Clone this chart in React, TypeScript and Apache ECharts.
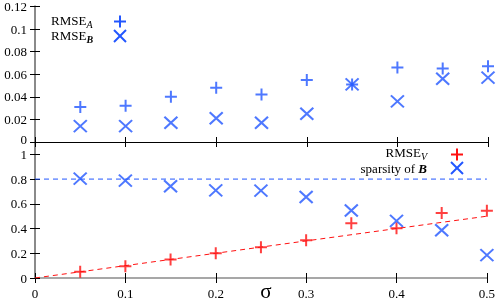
import React, { useEffect, useRef } from "react";
import * as echarts from "echarts";

const sigma = [0.05, 0.1, 0.15, 0.2, 0.25, 0.3, 0.35, 0.4, 0.45, 0.5];
const rmseA = [0.031, 0.032, 0.040, 0.048, 0.042, 0.055, 0.051, 0.066, 0.065, 0.067];
const rmseB = [0.014, 0.014, 0.017, 0.021, 0.017, 0.025, 0.051, 0.036, 0.056, 0.057];
const rmseV = [0.05, 0.095, 0.15, 0.2, 0.248, 0.305, 0.443, 0.402, 0.525, 0.543];
const sparsityB = [0.804, 0.788, 0.742, 0.709, 0.707, 0.655, 0.546, 0.462, 0.386, 0.185];
const fitLine = [[0, 0], [0.5, 0.5]];
const sparsityRef = [[0, 0.8], [0.5, 0.8]];

const BLUE = "#2256ff";
const RED = "#ff1010";
const GRAY = "#8a8a8a";
const FONT = "Liberation Serif";

const PLUS = "path://M0,5L10,5M5,0L5,10";
const CROSS = "path://M0,0L10,10M10,0L0,10";

export default function App() {
  const ref = useRef<HTMLDivElement>(null);
  useEffect(() => {
    if (!ref.current) return;
    const chart = echarts.init(ref.current, undefined, { renderer: "svg" });
    const tick = { show: true, inside: true, length: 5, lineStyle: { color: "#000", width: 1 } };
    const xBase = { type: "value", min: 0, max: 0.5, interval: 0.1, splitLine: { show: false } };
    const label = { fontFamily: FONT, fontSize: 13, lineHeight: 12, color: "#000" };
    const pts = (ys: number[]) => sigma.map((x, i) => [x, ys[i]]);
    const markerStyle = (c: string) => ({ color: "none", borderColor: c, borderWidth: 2 });
    const sub = { fontFamily: FONT, fontSize: 10, fontStyle: "italic", lineHeight: 10, padding: [5, 0, 0, 0], verticalAlign: "top", color: "#000" };
    const subB = { ...sub, fontWeight: "bold" };
    const main = { fontFamily: FONT, fontSize: 13, lineHeight: 14, verticalAlign: "top", color: "#000" };
    const legendMarker = (x: number, y: number, kind: string, c: string) => {
      const s = 6;
      const shapes =
        kind === "plus"
          ? [
              { x1: x - s, y1: y, x2: x + s, y2: y },
              { x1: x, y1: y - s, x2: x, y2: y + s },
            ]
          : [
              { x1: x - s, y1: y - s, x2: x + s, y2: y + s },
              { x1: x + s, y1: y - s, x2: x - s, y2: y + s },
            ];
      return shapes.map((shape) => ({ type: "line", shape, style: { stroke: c, lineWidth: 2 }, z: 100 }));
    };
    const hideTop = (v: number) => (v > 1.05 ? "" : String(Math.round(v * 10) / 10));
    const topFmt = (v: number) => (v === 0 ? "{z|0}" : String(Math.round(v * 100) / 100));
    chart.setOption({
      animation: false,
      grid: [
        { left: 35, right: 10, top: 6, height: 136 },
        { left: 35, right: 10, top: 142, height: 136 },
      ],
      xAxis: [
        { ...xBase, gridIndex: 0, position: "bottom", axisLine: { lineStyle: { color: "#000", width: 1 } }, axisTick: tick, axisLabel: { show: false } },
        { ...xBase, gridIndex: 0, position: "top", axisLine: { lineStyle: { color: "#000", width: 1 } }, axisTick: tick, axisLabel: { show: false } },
        { ...xBase, gridIndex: 1, position: "bottom", axisLine: { lineStyle: { color: GRAY, width: 1.5 } }, axisTick: tick, axisLabel: { ...label, margin: 9 } },
        { ...xBase, gridIndex: 1, position: "top", axisLine: { show: false }, axisTick: tick, axisLabel: { show: false } },
      ],
      yAxis: [
        { type: "value", gridIndex: 0, position: "left", min: 0, max: 0.12, interval: 0.02, splitLine: { show: false }, axisLine: { show: true, lineStyle: { color: GRAY, width: 2 } }, axisTick: tick, axisLabel: { ...label, margin: 8, formatter: topFmt, rich: { z: { fontFamily: FONT, fontSize: 13, lineHeight: 12, color: "#000", padding: [0, 0, 6, 0] } } } },
        { type: "value", gridIndex: 0, position: "right", min: 0, max: 0.12, interval: 0.02, splitLine: { show: false }, axisLine: { show: true, lineStyle: { color: GRAY, width: 2 } }, axisTick: tick, axisLabel: { show: false } },
        { type: "value", gridIndex: 1, position: "left", min: 0, max: 1.1, interval: 0.2, splitLine: { show: false }, axisLine: { show: true, lineStyle: { color: GRAY, width: 2 } }, axisTick: tick, axisLabel: { ...label, margin: 8, formatter: hideTop } },
        { type: "value", gridIndex: 1, position: "right", min: 0, max: 1.1, interval: 0.2, splitLine: { show: false }, axisLine: { show: true, lineStyle: { color: GRAY, width: 2 } }, axisTick: tick, axisLabel: { show: false } },
      ],
      series: [
        { type: "scatter", name: "RMSE_A", xAxisIndex: 0, yAxisIndex: 0, data: pts(rmseA), symbol: PLUS, symbolSize: [12, 12], itemStyle: markerStyle(BLUE), z: 5 },
        { type: "scatter", name: "RMSE_B", xAxisIndex: 0, yAxisIndex: 0, data: pts(rmseB), symbol: CROSS, symbolSize: [13, 12], itemStyle: markerStyle(BLUE), z: 5 },
        { type: "line", name: "fit", xAxisIndex: 2, yAxisIndex: 2, data: fitLine, symbol: "none", lineStyle: { color: RED, width: 1, type: [5, 4] }, z: 2 },
        { type: "line", name: "ref", xAxisIndex: 2, yAxisIndex: 2, data: sparsityRef, symbol: "none", lineStyle: { color: BLUE, width: 1, type: [5, 4] }, z: 2 },
        { type: "scatter", name: "RMSE_V", xAxisIndex: 2, yAxisIndex: 2, data: pts(rmseV), symbol: PLUS, symbolSize: [12, 12], itemStyle: markerStyle(RED), z: 5 },
        { type: "scatter", name: "sparsity of B", xAxisIndex: 2, yAxisIndex: 2, data: pts(sparsityB), symbol: CROSS, symbolSize: [13, 12], itemStyle: markerStyle(BLUE), z: 5 },
      ],
      graphic: [
        { type: "text", left: 51, top: 14, style: { text: "{m|RMSE}{s|A}", rich: { m: main, s: sub } }, z: 100 },
        { type: "text", left: 51, top: 29, style: { text: "{m|RMSE}{s|B}", rich: { m: main, s: subB } }, z: 100 },
        ...legendMarker(120, 21.5, "plus", BLUE),
        ...legendMarker(120, 36, "cross", BLUE),
        { type: "text", right: 71, top: 146, style: { text: "{m|RMSE}{s|V}", rich: { m: main, s: sub } }, z: 100 },
        { type: "text", right: 71, top: 162, style: { text: "{m|sparsity of }{b|B}", rich: { m: main, b: { ...main, fontWeight: "bold", fontStyle: "italic" } } }, z: 100 },
        ...legendMarker(457, 154.5, "plus", RED),
        ...legendMarker(457, 168, "cross", BLUE),
        { type: "text", x: 266, y: 291, style: { text: "σ", fontFamily: FONT, fontSize: 21, textAlign: "center", textVerticalAlign: "middle", fill: "#000" }, z: 100 },
      ],
    });
    return () => chart.dispose();
  }, []);
  return <div ref={ref} style={{ position: "fixed", left: 0, top: 0, width: 498, height: 302 }} />;
}
